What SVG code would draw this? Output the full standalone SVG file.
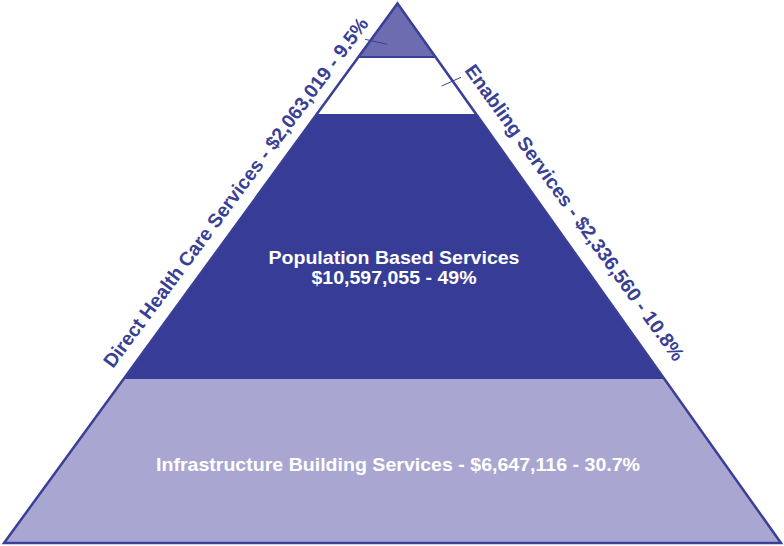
<svg xmlns="http://www.w3.org/2000/svg" width="784" height="546" viewBox="0 0 784 546">
  <style>
    .lbl { font-family: "Liberation Sans", Arial, sans-serif; font-weight: bold; font-size: 19px; }
    .side { fill: #3a3f96; font-size: 19.5px; }
    .inner { fill: #ffffff; }
    .tick { stroke: #3a3f96; stroke-width: 1; fill: none; }
  </style>
  <rect width="784" height="546" fill="#ffffff"/>
  <g id="direct-health-care">
    <polygon points="397.5,3.5 358.5,57 435.5,57" fill="#6e6cb0"/>
  </g>
  <g id="enabling">
    <polygon points="358.5,57 435.5,57 476,114 316.9,114" fill="#ffffff"/>
  </g>
  <g id="population-based">
    <polygon points="316.9,114 476,114 664.4,379 123.6,379" fill="#373d96"/>
    <text class="lbl inner" x="394" y="263.5" text-anchor="middle" textLength="251" lengthAdjust="spacingAndGlyphs">Population Based Services</text>
    <text class="lbl inner" x="394" y="283.5" text-anchor="middle" textLength="165" lengthAdjust="spacingAndGlyphs">$10,597,055 - 49%</text>
  </g>
  <g id="infrastructure">
    <polygon points="123.6,379 664.4,379 781,543 4,543" fill="#a9a7d1"/>
    <text class="lbl inner" x="398" y="471" text-anchor="middle" textLength="484" lengthAdjust="spacingAndGlyphs">Infrastructure Building Services - $6,647,116 - 30.7%</text>
  </g>
  <g id="outline">
    <polygon points="397.5,3.5 781,543 4,543" fill="none" stroke="#3a3f98" stroke-width="2.5" stroke-linejoin="miter"/>
    <line x1="358.5" y1="57" x2="435.5" y2="57" stroke="#3a3f98" stroke-width="2"/>
  </g>
  <g id="label-direct">
    <text class="lbl side" transform="translate(113,369) rotate(-53.4)" textLength="430" lengthAdjust="spacingAndGlyphs">Direct Health Care Services - $2,063,019 - 9.5%</text>
  </g>
  <g id="label-enabling">
    <text class="lbl side" transform="translate(464,70.5) rotate(54.2)" textLength="360" lengthAdjust="spacingAndGlyphs">Enabling Services - $2,336,560 - 10.8%</text>
  </g>
  <g id="connectors">
    <line class="tick" x1="365" y1="39.3" x2="387.3" y2="44.3"/>
    <line class="tick" x1="441.7" y1="86" x2="461" y2="77.3"/>
  </g>
</svg>
